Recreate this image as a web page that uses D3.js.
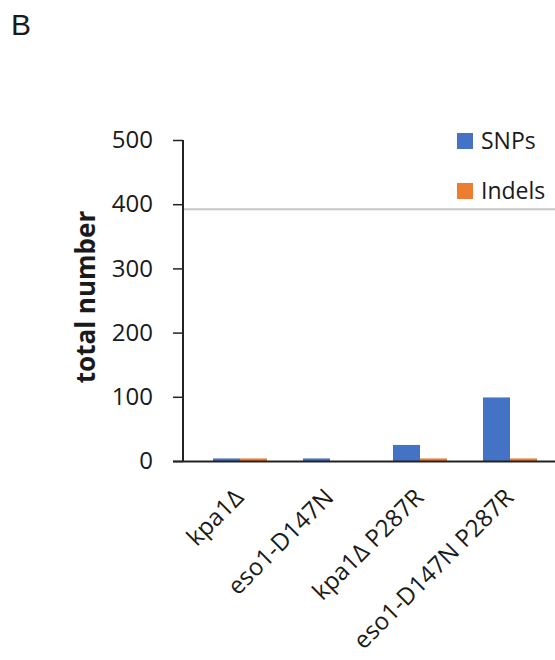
<!DOCTYPE html>
<html>
<head>
<meta charset="utf-8">
<script src="https://cdn.jsdelivr.net/npm/d3@7"></script>
<style>
  html, body { margin: 0; padding: 0; background: #fff; }
  svg { display: block; }
  text { font-family: "Open Sans", "Liberation Sans", sans-serif; fill: #1a1a1a; }
</style>
</head>
<body>
<svg id="chart" width="555" height="660"></svg>
<script>
// Mutation counts per strain
const strains = ["kpa1Δ", "eso1-D147N", "kpa1Δ P287R", "eso1-D147N P287R"];
const snps = [4, 4, 25, 99];
const indels = [4, 0, 4, 4];
const seriesNames = ["SNPs", "Indels"];
const seriesColors = ["#4472c4", "#ed7d31"];
const yTicks = [0, 100, 200, 300, 400, 500];
const refLine = 392;

const svg = d3.select("#chart");

const y = d3.scaleLinear().domain([0, 500]).range([461, 140]);
const x0 = d3.scaleBand().domain(strains).range([195, 555]);
const x1 = d3.scaleBand().domain(seriesNames).range([18, 72]);

// panel letter
svg.append("text").attr("x", 11).attr("y", 35)
  .style("font-family", "'Liberation Sans', Arial, sans-serif")
  .style("font-size", "30px").text("B");

// horizontal reference line
svg.append("line")
  .attr("x1", 183).attr("x2", 555)
  .attr("y1", y(refLine)).attr("y2", y(refLine))
  .attr("stroke", "#c8c8c8").attr("stroke-width", 2);

// bars
const rows = strains.map((s, i) => ({ strain: s, values: [snps[i], indels[i]] }));
const groups = svg.append("g").selectAll("g").data(rows).join("g")
  .attr("transform", d => `translate(${x0(d.strain)},0)`);
groups.selectAll("rect")
  .data(d => d.values.map((v, k) => ({ key: seriesNames[k], v, k })))
  .join("rect")
  .attr("x", d => x1(d.key))
  .attr("width", x1.bandwidth())
  .attr("y", d => y(d.v))
  .attr("height", d => y(0) - y(d.v))
  .attr("fill", d => seriesColors[d.k]);

// y axis
const yAxis = d3.axisLeft(y).tickValues(yTicks).tickSize(10).tickPadding(20);
const gy = svg.append("g").attr("transform", "translate(183,0)").call(yAxis);
gy.select(".domain").attr("stroke", "#222").attr("stroke-width", 2).attr("d", "M0,140V462");
gy.selectAll(".tick line").attr("stroke", "#222").attr("stroke-width", 1.5);
gy.selectAll(".tick text").style("font-size", "24px").style("fill", "#1a1a1a")
  .style("font-family", "'Open Sans', sans-serif");

// x axis baseline
svg.append("line").attr("x1", 173).attr("x2", 555)
  .attr("y1", y(0) + 0.5).attr("y2", y(0) + 0.5)
  .attr("stroke", "#222").attr("stroke-width", 2);

// category labels
svg.append("g").selectAll("text").data(strains).join("text")
  .attr("transform", d => `translate(${x0(d) + x0.bandwidth() / 2 + 5},${499}) rotate(-45)`)
  .attr("text-anchor", "end")
  .style("font-size", "24px")
  .text(d => d);

// y axis title
svg.append("text")
  .attr("transform", "translate(95,297) rotate(-90)")
  .attr("text-anchor", "middle")
  .style("font-size", "26px").style("font-weight", "bold")
  .text("total number");

// legend
const legend = svg.append("g").selectAll("g").data(seriesNames).join("g")
  .attr("transform", (d, i) => `translate(457,${133 + i * 50})`);
legend.append("rect").attr("width", 16).attr("height", 16)
  .attr("fill", (d, i) => seriesColors[i]);
legend.append("text").attr("x", 24).attr("y", 16)
  .style("font-size", "23px").text(d => d);
</script>
</body>
</html>
